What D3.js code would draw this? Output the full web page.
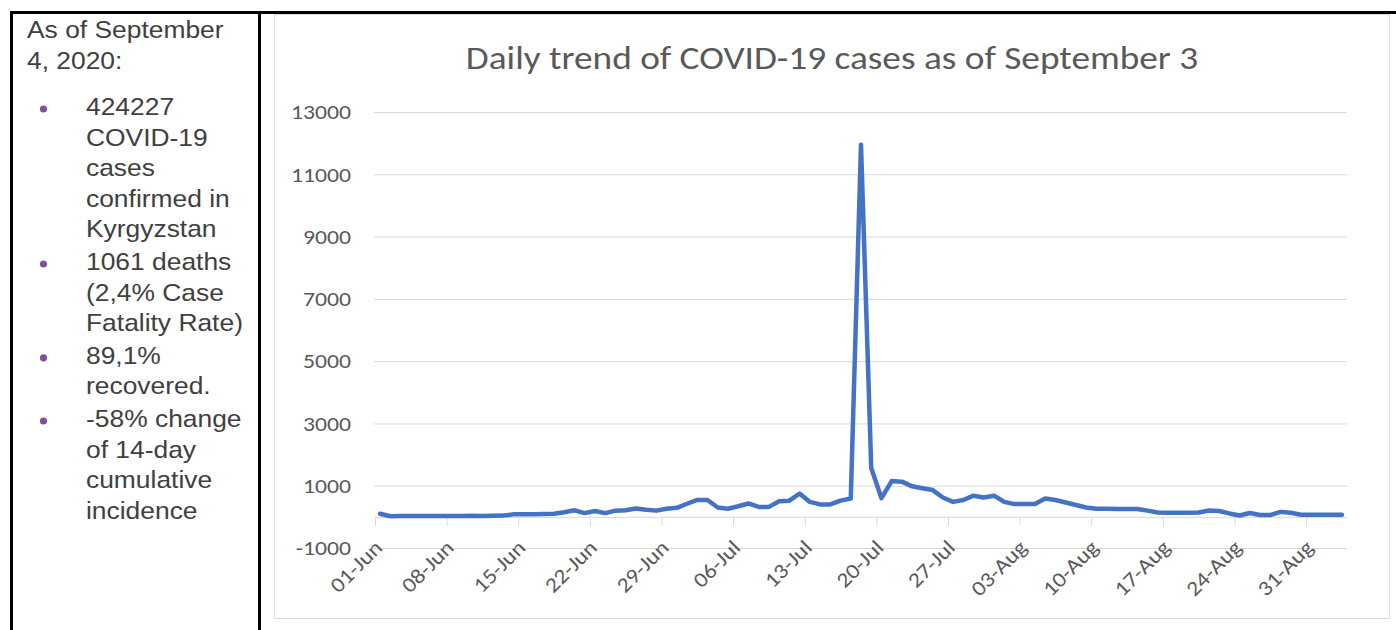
<!DOCTYPE html>
<html>
<head>
<meta charset="utf-8">
<script src="https://cdn.jsdelivr.net/npm/d3@7"></script>
<style>
  body { margin: 0; background: #fff; }
</style>
</head>
<body>
<div id="chart"></div>
<script>
// Daily new cases, one value per day starting at startDate
var startDate = '2020-06-01';
var dailyCases = [
  100,
  20, 25, 25, 30, 25, 25, 30, 30, 35, 30, 35, 40,
  80, 85, 85, 90, 100,
  150, 210, 120, 190, 120, 200, 210, 270, 230, 200, 260, 290,
  420, 545, 540, 300, 260, 340, 430, 320, 320, 500,
  520, 750, 480, 400, 400, 520, 590, 11950, 1570, 600,
  1150, 1130, 980, 920, 860, 620, 480, 540, 680, 620,
  680, 480, 410, 410, 410, 590, 540, 460, 380, 300,
  260, 260, 255, 255, 250, 200, 140, 135, 135, 135,
  140, 205, 190, 110, 45, 125, 60, 57, 160, 130,
  70, 70, 70, 70, 65
];

var yTicks = [-1000, 1000, 3000, 5000, 7000, 9000, 11000, 13000];
var xTickDates = [
  '2020-06-01', '2020-06-08', '2020-06-15', '2020-06-22', '2020-06-29',
  '2020-07-06', '2020-07-13', '2020-07-20', '2020-07-27',
  '2020-08-03', '2020-08-10', '2020-08-17', '2020-08-24', '2020-08-31'
];

var chartTitle = 'Daily trend of COVID-19 cases as of September 3';
var summaryHeading = ['As of September', '4, 2020:'];
var summaryBullets = [
  ['424227', 'COVID-19', 'cases', 'confirmed in', 'Kyrgyzstan'],
  ['1061 deaths', '(2,4% Case', 'Fatality Rate)'],
  ['89,1%', 'recovered.'],
  ['-58% change', 'of 14-day', 'cumulative', 'incidence']
];

var parseDate = d3.timeParse('%Y-%m-%d');

// The source picture is stretched sideways a little, so text gets an x scale
var chartFont = 'Carlito, Calibri, Lato, sans-serif';
var stretch = 1.13;

function createCanvas() {
  var svg = d3.select('#chart')
    .append('svg')
    .attr('width', 1396)
    .attr('height', 630);

  // Table borders around the two cells
  svg.append('rect').attr('x', 10).attr('y', 11).attr('width', 1386).attr('height', 3).style('fill', '#000');
  svg.append('rect').attr('x', 10).attr('y', 11).attr('width', 3).attr('height', 619).style('fill', '#000');
  svg.append('rect').attr('x', 258).attr('y', 11).attr('width', 3).attr('height', 619).style('fill', '#000');

  return svg;
}

function renderSummary(svg) {
  var textColour = '#404040';
  var lineHeight = 30.6;

  function addLine(x, y, txt) {
    svg.append('text')
      .attr('transform', 'translate(' + x + ',' + y + ') scale(1.1,1)')
      .style('font-family', '"Liberation Sans", Arial, sans-serif')
      .style('font-size', '24px')
      .style('fill', textColour)
      .text(txt);
  }

  summaryHeading.forEach((txt, i) => addLine(27, 38 + i * lineHeight, txt));

  var lineCount = 0;
  summaryBullets.forEach((lines, b) => {
    var firstY = 115 + lineCount * lineHeight + b * 2;
    svg.append('circle')
      .attr('cx', 43.5)
      .attr('cy', firstY - 6)
      .attr('r', 3.6)
      .style('fill', '#80509a');

    lines.forEach((txt, i) => addLine(86, firstY + i * lineHeight, txt));
    lineCount += lines.length;
  });
}

function renderChart(svg) {
  var frame = { left: 274.5, top: 14.5, right: 1389.5, bottom: 618.5 };
  var plot = { left: 375, right: 1347, top: 112, bottom: 548 };

  svg.append('rect')
    .attr('x', frame.left)
    .attr('y', frame.top)
    .attr('width', frame.right - frame.left)
    .attr('height', frame.bottom - frame.top)
    .style('fill', '#fff')
    .style('stroke', '#d9d9d9');

  svg.append('text')
    .attr('transform', 'translate(' + ((frame.left + frame.right) / 2) + ',69) scale(1.165,1)')
    .attr('text-anchor', 'middle')
    .style('font-family', chartFont)
    .style('font-size', '32px')
    .style('fill', '#595959')
    .text(chartTitle);

  var start = parseDate(startDate);
  var data = dailyCases.map((v, i) => ({ date: d3.timeDay.offset(start, i), value: v }));

  // Each day occupies a slot; points sit in the middle of their day
  var xScale = d3.scaleTime()
    .domain([start, d3.timeDay.offset(start, dailyCases.length)])
    .range([plot.left, plot.right]);

  var yScale = d3.scaleLinear()
    .domain([d3.min(yTicks), d3.max(yTicks)])
    .range([plot.bottom, plot.top]);

  // Horizontal gridlines plus the y labels
  var yAxis = d3.axisLeft(yScale)
    .tickValues(yTicks)
    .tickSizeInner(-(plot.right - plot.left + 1))
    .tickSizeOuter(0)
    .tickPadding(23)
    .tickFormat(d => String(d));

  var yG = svg.append('g')
    .attr('transform', 'translate(' + (plot.left - 1) + ',0)')
    .call(yAxis);
  yG.select('.domain').remove();
  yG.selectAll('line').style('stroke', '#d9d9d9');
  yG.selectAll('text')
    .attr('x', 0)
    .attr('transform', 'translate(-23,0) scale(' + stretch + ',1)')
    .style('font-family', chartFont)
    .style('font-size', '21px')
    .style('fill', '#595959');

  // Date axis sitting on zero
  var xAxis = d3.axisBottom(xScale)
    .tickValues(xTickDates.map(parseDate))
    .tickSizeInner(9)
    .tickSizeOuter(0)
    .tickFormat(d3.timeFormat('%d-%b'));

  var xG = svg.append('g')
    .attr('transform', 'translate(0,' + yScale(0) + ')')
    .call(xAxis);
  xG.select('.domain').style('stroke', '#d9d9d9');
  xG.selectAll('line').style('stroke', '#d9d9d9');
  xG.selectAll('text')
    .attr('x', 0)
    .attr('y', 0)
    .attr('dy', 0)
    .attr('transform', 'translate(8,32) rotate(-45) scale(' + stretch + ',1)')
    .style('text-anchor', 'end')
    .style('font-family', chartFont)
    .style('font-size', '21px')
    .style('fill', '#595959');

  var lineFunction = d3.line()
    .x(d => xScale(d3.timeHour.offset(d.date, 12)))
    .y(d => yScale(d.value));

  svg.append('path')
    .datum(data)
    .attr('d', lineFunction)
    .style('fill', 'none')
    .style('stroke', '#4472c4')
    .style('stroke-width', '4.5px')
    .style('stroke-linejoin', 'round')
    .style('stroke-linecap', 'round');
}

function init() {
  var svg = createCanvas();
  renderSummary(svg);
  renderChart(svg);
}

window.onload = init;
</script>
</body>
</html>
